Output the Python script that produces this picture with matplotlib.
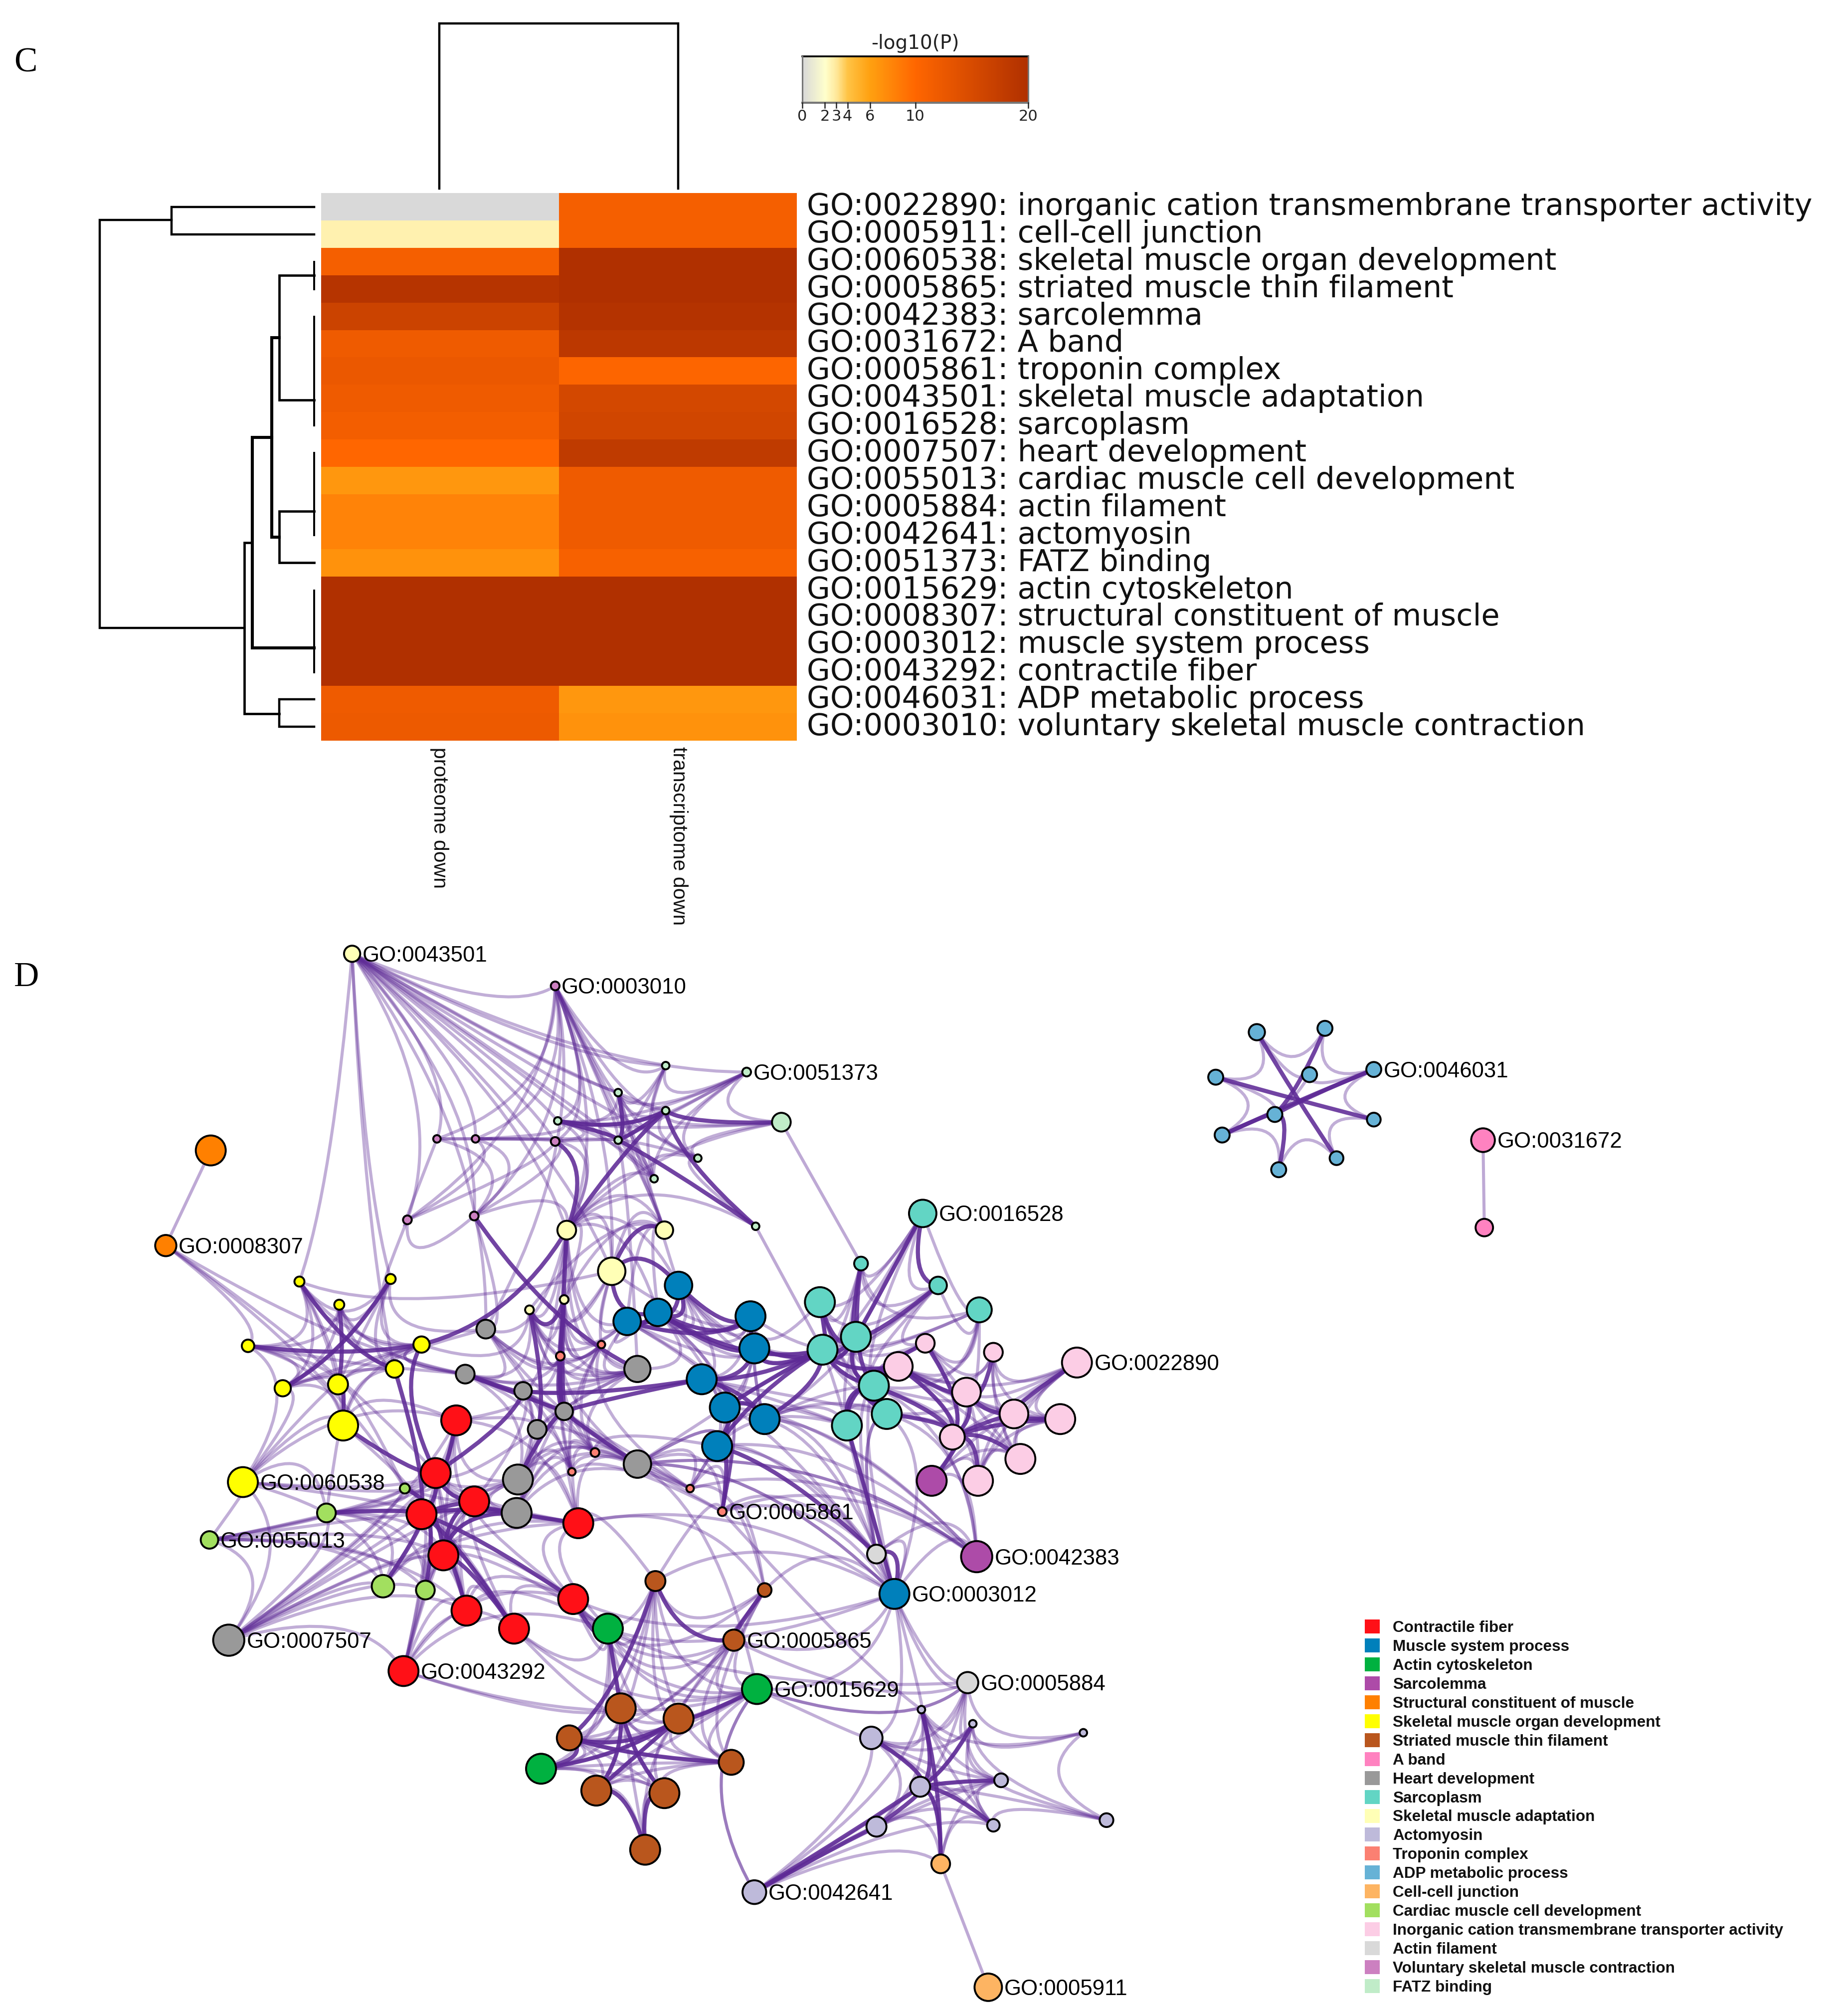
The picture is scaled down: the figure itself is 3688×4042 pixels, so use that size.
import numpy as np
import matplotlib
matplotlib.use('Agg')
import matplotlib.pyplot as plt
from matplotlib.colors import LinearSegmentedColormap, Normalize
from matplotlib.patches import Circle, PathPatch, Rectangle
from matplotlib.path import Path

W_PX, H_PX = 3688, 4042
S = 3688 / 1431

# ---------------- heatmap data
terms = ["GO:0022890: inorganic cation transmembrane transporter activity",
         "GO:0005911: cell-cell junction", "GO:0060538: skeletal muscle organ development",
         "GO:0005865: striated muscle thin filament", "GO:0042383: sarcolemma", "GO:0031672: A band",
         "GO:0005861: troponin complex", "GO:0043501: skeletal muscle adaptation", "GO:0016528: sarcoplasm",
         "GO:0007507: heart development", "GO:0055013: cardiac muscle cell development",
         "GO:0005884: actin filament", "GO:0042641: actomyosin", "GO:0051373: FATZ binding",
         "GO:0015629: actin cytoskeleton", "GO:0008307: structural constituent of muscle",
         "GO:0003012: muscle system process", "GO:0043292: contractile fiber",
         "GO:0046031: ADP metabolic process", "GO:0003010: voluntary skeletal muscle contraction"]
proteome = [0, 2.6, 11.3, 19.2, 16.5, 12, 12.5, 12, 11.5, 10, 6.6, 8, 8, 7, 20, 20, 20, 20, 12, 12.3]
transcriptome = [11.3, 11.3, 20, 20, 19.5, 18.5, 10.3, 15.5, 16, 18, 12, 12, 12, 11, 20, 20, 20, 20, 6.6, 7]
columns = ["proteome down", "transcriptome down"]
cbar_ticks = [0, 2, 3, 4, 6, 10, 20]
cmap_stops = [(0, '#d9d9d9'), (2, '#ffffcc'), (3, '#ffe89a'), (4, '#ffc345'), (6, '#ffa010'),
              (10, '#ff6600'), (20, '#b03000')]

# ---------------- network data (positions)
groups = {
 'R': [(355,1105,12),(339,1146,12),(369,1168,12),(328,1178,12),(345,1210,12),(450,1185,12),(446,1244,12),(363,1253,12),(400,1267,12),(314,1300,12)],
 'B': [(528,1000,11),(488,1028,11),(512,1021,11),(584,1024,12),(587,1049,12),(546,1073,12),(564,1095,12),(595,1104,12),(558,1125,12),(696,1240,12)],
 'G': [(473,1267,12),(589,1314,12),(421,1376,12)],
 'P': [(725,1152,12),(760,1211,12.5)],
 'O': [(164,895,12),(129,969,8.5)],
 'Y': [(233,997,4),(304,995,4),(264,1015,4),(193,1047,5),(328,1046,6.5),(220,1080,6.5),(263,1077,8),(307,1065,7),(267,1109,12),(189,1153,12)],
 'W': [(510,1230,8),(595,1237,5.5),(571,1276,8.5),(483,1329,12),(528,1337,12),(443,1352,10),(569,1371,10),(464,1393,12),(517,1395,12),(502,1439,12)],
 'A': [(1154,887,9.5),(1155,955,7)],
 'H': [(378,1034,7.5),(362,1069,7.5),(407,1082,7),(496,1065,10.5),(439,1098,7),(418,1112,7.5),(403,1151,12),(402,1177,12),(496,1139,11),(178,1276,12.5)],
 'T': [(718,944,11),(670,983,5.5),(730,1000,7),(762,1019,10),(638,1013,12),(666,1040,12),(640,1050,12),(680,1078,12),(659,1109,12),(690,1100,12)],
 'S': [(274,742,6.5),(441,957,7.5),(517,957,7),(476,989,11),(412,1019,3.5),(439,1011,3.5)],
 'L': [(678,1352,9),(717,1330,3),(757,1341,3),(843,1348,3),(716,1390,8),(779,1385,5.5),(682,1421,8),(773,1420,5),(861,1416,5.5),(587,1472,9.5)],
 'N': [(436,1055,3.5),(468,1046,3),(445,1145,3),(463,1130,3.5),(537,1158,3),(562,1176,3.5)],
 'D': [(978,803,6.5),(1031,800,6),(946,838,6),(1019,836,6),(1069,832,6),(992,867,6),(951,883,6),(1069,871,5.5),(1040,901,5.5),(995,910,6)],
 'C': [(732,1450,7.5),(769,1546,11)],
 'K': [(315,1158,4),(254,1177,7.5),(163,1198,7),(298,1234,9),(331,1237,7.5)],
 'I': [(838,1060,12),(720,1045,7.5),(773,1052,7.5),(699,1063,11.5),(752,1083,11.5),(789,1100,11.5),(825,1104,12),(741,1118,10),(794,1135,12),(761,1152,12)],
 'F': [(682,1209,7.5),(753,1309,8.5)],
 'V': [(432,767,3.5),(340,886,3),(370,886,3),(432,888,3.5),(317,949,3.5),(369,946,3.5)],
 'Z': [(581,834,3.5),(518,829,3),(481,850,3),(434,872,3),(518,864,3),(481,887,3),(543,901,3),(509,917,3),(588,954,3),(608,873,7.5)],
}
legend_names = ["Contractile fiber", "Muscle system process", "Actin cytoskeleton", "Sarcolemma",
                "Structural constituent of muscle", "Skeletal muscle organ development",
                "Striated muscle thin filament", "A band", "Heart development", "Sarcoplasm",
                "Skeletal muscle adaptation", "Actomyosin", "Troponin complex", "ADP metabolic process",
                "Cell-cell junction", "Cardiac muscle cell development",
                "Inorganic cation transmembrane transporter activity", "Actin filament",
                "Voluntary skeletal muscle contraction", "FATZ binding"]
legend_keys = list("RBGPOYWAHTSLNDCKIFVZ")
legend_colors = ['#ff1017', '#0080bb', '#00b140', '#ad4ba8', '#ff8000', '#ffff00', '#b9561d', '#ff82c0',
                 '#999999', '#62d5c4', '#ffffb6', '#bebada', '#fb8072', '#66b2d6', '#fdb462', '#a2df5f',
                 '#fccde5', '#d9d9d9', '#cc80c0', '#c0ecc8']
node_labels = {'S0':'GO:0043501','V0':'GO:0003010','Z0':'GO:0051373','D4':'GO:0046031','A0':'GO:0031672',
               'T0':'GO:0016528','O1':'GO:0008307','I0':'GO:0022890','Y9':'GO:0060538','N5':'GO:0005861',
               'K2':'GO:0055013','P1':'GO:0042383','B9':'GO:0003012','H9':'GO:0007507','W2':'GO:0005865',
               'R9':'GO:0043292','G1':'GO:0015629','F1':'GO:0005884','L9':'GO:0042641','C1':'GO:0005911'}

straight_edges = "O0:O1, A0:A1, C0:C1, Z9:T1, Z8:T6"
thin_edges = """
S0:V0 V1 V2 V3 V4 V5 Z1 Z2 Z3 Z4 Z5 Z6 S1 S3 H0 Y1 Y7 Y0 Z7 Z0
V0:Z1 Z2 Z3 Z4 Z5 Z7 V3 V4 V5 V1 S1 S2 S3 H0 V2
Z0:Z1 Z2 Z3 Z4 Z5 Z6 Z7 Z9
Z1:Z2 Z4 Z5 Z7
Z2:Z3 Z4 Z5 Z6 Z7 S2
Z3:Z4 Z5 Z7 Z9 S1 V3 V2
Z4:Z5 Z6 Z9
Z5:Z6 Z7 V3 V2 H3 S2
Z6:Z7 Z8 Z9
Z7:S2 S1
V1:V2 V4 V3 V5
V2:V3 V5 V4
V3:V4 V5 S1
V4:V5 Y1
V5:S1 H0
Y0:Y1 Y2 Y4 Y5 Y8 S3 Y3 Y6
Y1:Y2 Y4 Y6 Y7 Y5 H0
Y2:Y3 Y4 Y7 Y5 H1
Y3:Y5 Y6 Y7 Y8 Y9
Y4:Y5 Y6 Y7 Y8 H1 S4
Y5:Y6 Y7 Y8 Y9
Y6:Y7 Y8 Y9 K0
Y7:Y8 H1
Y8:Y9 K1 R0 R3
Y9:K1 K0 R1 R3 R0 K2 K3 H9
O1:Y3 K0 H1 R1
K2:K1 K0 R1 R3 R4 K3 H9 R7 K4
K1:K0 K3 R3 R1 R4 K4
K3:K4 R4 R1 H9
K4:R4 R3 H9 R7
H9:R3 R4 R1 R7 K0 R9 K1 R2 R0 R5
R9:R7 R8 R4 R6 R3 R1 R2 G0 K4 G1 W3
R0:R1 R2 R3 R4 H2 H5 H6 R5 K0
R1:R2 R4 R5 R7 H7 H6 H5 K0
R2:R4 R5 H6 H7 H2 R7 R8 R6 K0
R3:R5 R7 R8 H7 H6 K0
R4:R5 R7 R8 H7 H6 R6 G0
R5:R6 H6 H7 N2 N3 W0 W1 G0 H8 B9
R6:R7 R8 G0 W0 G1 W2 B9
R7:R8 G0
R8:G0 W3 G1
G0:W0 W1 W2 W3 W4 G1 B9 W5 F1
G1:W0 W1 W2 W4 W5 W6 L0 F1 L9 W3 W7 B9 H8
H0:H1 H2 H4 H3 N0 N1 Y7
H1:H3 H4 H5 H6 N0 Y4
H2:H3 H4 H5 H6 H7 N0 N2 N3 H8
H3:H4 H5 N0 N1 N3
H4:H5 H6 H7 H8 N2 N3 N4
H5:H6 H7 H8 N2
H6:H7 H8 N2 N3
H7:H8 N2 N3 N4
H8:N3 N4 N5 B8 B9 P1
N0:N1 N2 N3 S4 S5 H8
N1:N3 N2 N4 S5
N2:N3 N4 N5
N3:N4 N5 B8
N4:N5 B8 W1 P1
N5:W1 B8 B9 W0 F0 B5 B6 P1 L1
S1:S2 S3 S4 S5 Z8 H0 H2 H3 B0 B1 B2 N1 N0 H4 Z9
S2:S3 S4 S5 B0 B1 B2
S3:S4 S5 B3 B1 H3
S4:S5 N0 H1 N1 H3 B1
S5:N0 N1 H4 H3 B1
B0:B1 B2 B3 B4 T6 B5
B1:B2 B5 B4 B6 H3
B2:B3 B4 B5 B6 B8 H3
B3:B4 B5 B7 T4 T6 T5
B4:B6 B7 B8 T5 T6
B5:B8 T8 T9
B6:B7 T6 T8 N5 H8 F0
B7:B8 T7 T8 T9 T5 F0 B9
B8:N4 N5 H8 B9 P1 F0 T8
B9:F0 F1 L0 W1 W0 H8 L1 P1 T7 T8 T9 W2
F0:F1 T8 T9 T7 P1
F1:W2 L0 L1 L2 L3 L4 L5 G1
P1:P0 B6 B7 H8 T7 T9
P0:I4 I7 I8 I9 I5
T0:T1 T2 T5 T3 T4 T6 T7
T1:T2 T4 T5 T6 T3
T2:T3 T4 T5 T6 T7 I1
T3:T5 T7 I1 I3 I4 T6
T4:T5 T6 T7 T9
T5:T6 T7 T8 T9 I1 I3
T6:T7 T8 T9 I3
T7:T8 T9 I1 I4 I7
T8:T9 I3
T9:I3 I7 I4 F0
I0:I2 I4 I5 I6 I7 I8 I9 I3
I1:I2 I3 I4 I7
I2:I3 I5 I6 I8
I3:I5 I6 I8 I9
I4:I6 I8 I9
I5:I6 I8 I9
I6:I8 I9
I8:I9
L0:L1 L2 L4 L5 L6 L7
L1:L2 L3 L5 L6 L7
L2:L3 L5 L7 L8 L4
L3:L8
L4:L5 L8 C0
L5:L6 L7 L8 C0
L6:L7 C0
L7:L8 C0
L9:L0 L1 L4 L5 L6 L7 C0 G1
W0:W1 W3 W4 W5 W6
W1:W2 W4 W6
W2:W3 W4 W6 W5
W3:W4 W5 W6 W7 W8 W9
W4:W5 W6 W7 W8 W9
W5:W6 W7 W8
W6:W7 W8
W7:W8 W9
W8:W9
G2:W3 W4 W5 W6 W7 W8 G0
D0:D1 D2 D3
D1:D4
D2:D6 D5
D4:D7 D3
D7:D8
D8:D9
D6:D9
D3:D5
"""
thick_edges = """
Z3:Z5 Z4
Z4:Z5 Z9 Z8 S1
Z2:Z5
Z5:Z8
V3:S1
V5:H3
S1:Y4 H4
S2:S3
S3:B0 B2
S4:S5 H5
S5:H4
N0:H4
H4:H6 H8 B5
H1:H2 H4
H2:B5
Y3:Y4
Y0:Y7
Y1:Y5
Y2:Y6
Y6:Y8
Y4:R1
Y7:R3
Y8:R1
R0:R1
R1:R2 R3 H2
R2:R3 R4 H7
R3:R4 H7 R6 R8
R4:H7 R7 R8
R5:H7
K0:R3
K1:R3
K3:R3
K4:R3
R6:G0
G0:W3
W0:W2 W5
W2:W1
W3:W7 W8
W4:W5 W7
W5:W6
G1:W4
W9:W7 W8
G2:W5 W4
B0:B1 B2 B3
B1:B2 B3
B2:B3 B4 T6
B3:B4
B4:B5 T6 T5
B5:B6 B7 T6
B6:B8 B7 T6
B7:T6
B8:T6 N5
T7:T6 T5 T8 T9 I3 I7 I1
T4:T6 T5
T5:T6
T1:T5 T7
T2:T5
T0:T5 T2
T6:I3
T8:I3
T9:I7 I3
I3:I7 I4
I4:I7 I5
I1:I7
I2:I4
I5:I7 I6
I6:I7
I7:I8 I9 P0
I0:I5
B9:F0 T8
F0:B8
L0:L4
L1:L4 C0
L2:L4
L4:L7 L5 L6 C0
L9:L4 L6
D0:D8
D1:D5
D2:D7
D4:D6 D5
D5:D6 D9
"""
hubs = [(1009,856),(490,885),(430,1095),(650,1075),(345,1170),(490,1370),(735,1385),(270,1060),(765,1105),(585,1080)]

def parse_edges(text):
    out = []
    for chunk in text.replace('\n', ',').split(','):
        chunk = chunk.strip()
        if chunk:
            a, bs = chunk.split(':')
            out += [(a, b) for b in bs.split()]
    return out

nodes = {k + str(i): v for k, vs in groups.items() for i, v in enumerate(vs)}
color_of = dict(zip(legend_keys, legend_colors))

fig = plt.figure(figsize=(W_PX / 100, H_PX / 100), dpi=100, facecolor='white')
ax = fig.add_axes([0, 0, 1, 1])
ax.set_xlim(0, W_PX)
ax.set_ylim(H_PX, 0)
ax.axis('off')

# ---------------- heatmap
cmap = LinearSegmentedColormap.from_list('mp', [(v / 20, c) for v, c in cmap_stops])
norm = Normalize(0, 20)
hx = [644, 1121, 1598]
hy0, hrow = 387, 54.9
data = np.column_stack([proteome, transcriptome])
ax.pcolormesh(hx, hy0 + hrow * np.arange(len(terms) + 1), data, cmap=cmap, norm=norm, rasterized=True, linewidth=0)
for i, t in enumerate(terms):
    ax.text(1618, hy0 + hrow * (i + 0.5), t, family='DejaVu Sans', fontsize=43.6, va='center', ha='left', color='#111111')
ax.text(881, 1498, columns[0], rotation=270, family='Liberation Sans', fontsize=29.5, va='top', ha='center', color='#111111')
ax.text(1361, 1497, columns[1], rotation=270, family='Liberation Sans', fontsize=29.5, va='top', ha='center', color='#111111')

def seg(x, y, lw=3.2):
    ax.plot(x, y, color='black', lw=lw, solid_capstyle='projecting', solid_joinstyle='miter')

# top dendrogram
seg([881, 881, 1360, 1360], [378, 47, 47, 378])
# left dendrogram
seg([630, 344, 344, 630], [414.5, 414.5, 470, 470])
seg([344, 200, 200, 490], [441, 441, 1259, 1259])
seg([630, 560, 560, 630], [552, 552, 802, 802], 3.4)
seg([630, 560, 560, 630], [1025, 1025, 1128, 1128], 3.4)
seg([560, 545, 545, 560], [677, 677, 1077, 1077], 4.4)
seg([545, 506, 506, 630], [877, 877, 1299, 1299], 4.4)
seg([506, 490, 490, 560], [1088, 1088, 1431, 1431], 3.4)
seg([630, 560, 560, 630], [1402, 1402, 1457, 1457], 3.2)
for y0, y1 in [(525, 580), (635, 853), (908, 1073), (1184, 1348)]:
    seg([630, 630], [y0, y1], 2.8)

# colourbar
cx0, cx1, cy0, cy1 = 1609, 2062, 113, 206
grad = np.linspace(0, 20, 256)[None, :]
ax.pcolormesh(np.linspace(cx0, cx1, 257), [cy0, cy1], grad, cmap=cmap, norm=norm, rasterized=True)
ax.plot([cx0, cx1], [cy0, cy0], color='black', lw=2.6)
ax.plot([cx0, cx1], [cy1, cy1], color='#777777', lw=3)
ax.plot([cx0, cx0], [cy0, cy1], color='#777777', lw=2.2)
ax.plot([cx1, cx1], [cy0, cy1], color='#777777', lw=2.2)
for v in cbar_ticks:
    xv = cx0 + norm(v) * (cx1 - cx0)
    ax.plot([xv, xv], [cy1, 216], color='#222222', lw=1.8)
    ax.text(xv, 233, str(v), family='DejaVu Sans', fontsize=22, ha='center', va='center', color='#222222')
ax.text((cx0 + cx1) / 2, 87, '-log10(P)', family='DejaVu Sans', fontsize=28, ha='center', va='center', color='#222222')

ax.text(28, 127, 'C', family='Liberation Serif', fontsize=50, va='center', ha='left', color='black')
ax.text(28, 1960, 'D', family='Liberation Serif', fontsize=50, va='center', ha='left', color='black')

# ---------------- network
def draw_edge(a, b, lw, alpha, cap):
    x0, y0 = nodes[a][:2]
    x1, y1 = nodes[b][:2]
    mx, my = (x0 + x1) / 2, (y0 + y1) / 2
    hx_, hy_ = min(hubs, key=lambda h: (h[0] - mx) ** 2 + (h[1] - my) ** 2)
    dist = np.hypot(hx_ - mx, hy_ - my) + 1e-6
    off = min(0.75 * dist, cap)
    cx, cy = mx + (hx_ - mx) / dist * off, my + (hy_ - my) / dist * off
    path = Path(np.array([(x0, y0), (cx, cy), (x1, y1)]) * S, [Path.MOVETO, Path.CURVE3, Path.CURVE3])
    ax.add_patch(PathPatch(path, fc='none', ec='#5e2a96', lw=lw, alpha=alpha, capstyle='round', zorder=3))

for a, b in parse_edges(thin_edges):
    draw_edge(a, b, 4.4, 0.38, 55)
for a, b in parse_edges(straight_edges):
    draw_edge(a, b, 4.4, 0.40, 0)
for a, b in parse_edges(thick_edges):
    draw_edge(a, b, 6.0, 0.88, 30)

for name, (x, y, r) in nodes.items():
    ax.add_patch(Circle((x * S, y * S), r * S * 0.97, fc=color_of[name[0]], ec='black', lw=2.8, zorder=5))
for name, lab in node_labels.items():
    x, y, r = nodes[name]
    ax.text((x + r + 1.5) * S, y * S + 4, lab, family='Liberation Sans', fontsize=31.5, va='center', ha='left', color='black', zorder=6)

# ---------------- legend
for i, (nm, col) in enumerate(zip(legend_names, legend_colors)):
    yc = 3261 + 37.95 * i
    ax.add_patch(Rectangle((2737, yc - 14), 30, 28, fc=col, ec='none', zorder=6))
    ax.text(2793, yc + 3, nm, family='Liberation Sans', weight='bold', fontsize=22.7, va='center', ha='left', color='#111111', zorder=6)

fig.savefig('out.png', dpi=100, facecolor='white')
